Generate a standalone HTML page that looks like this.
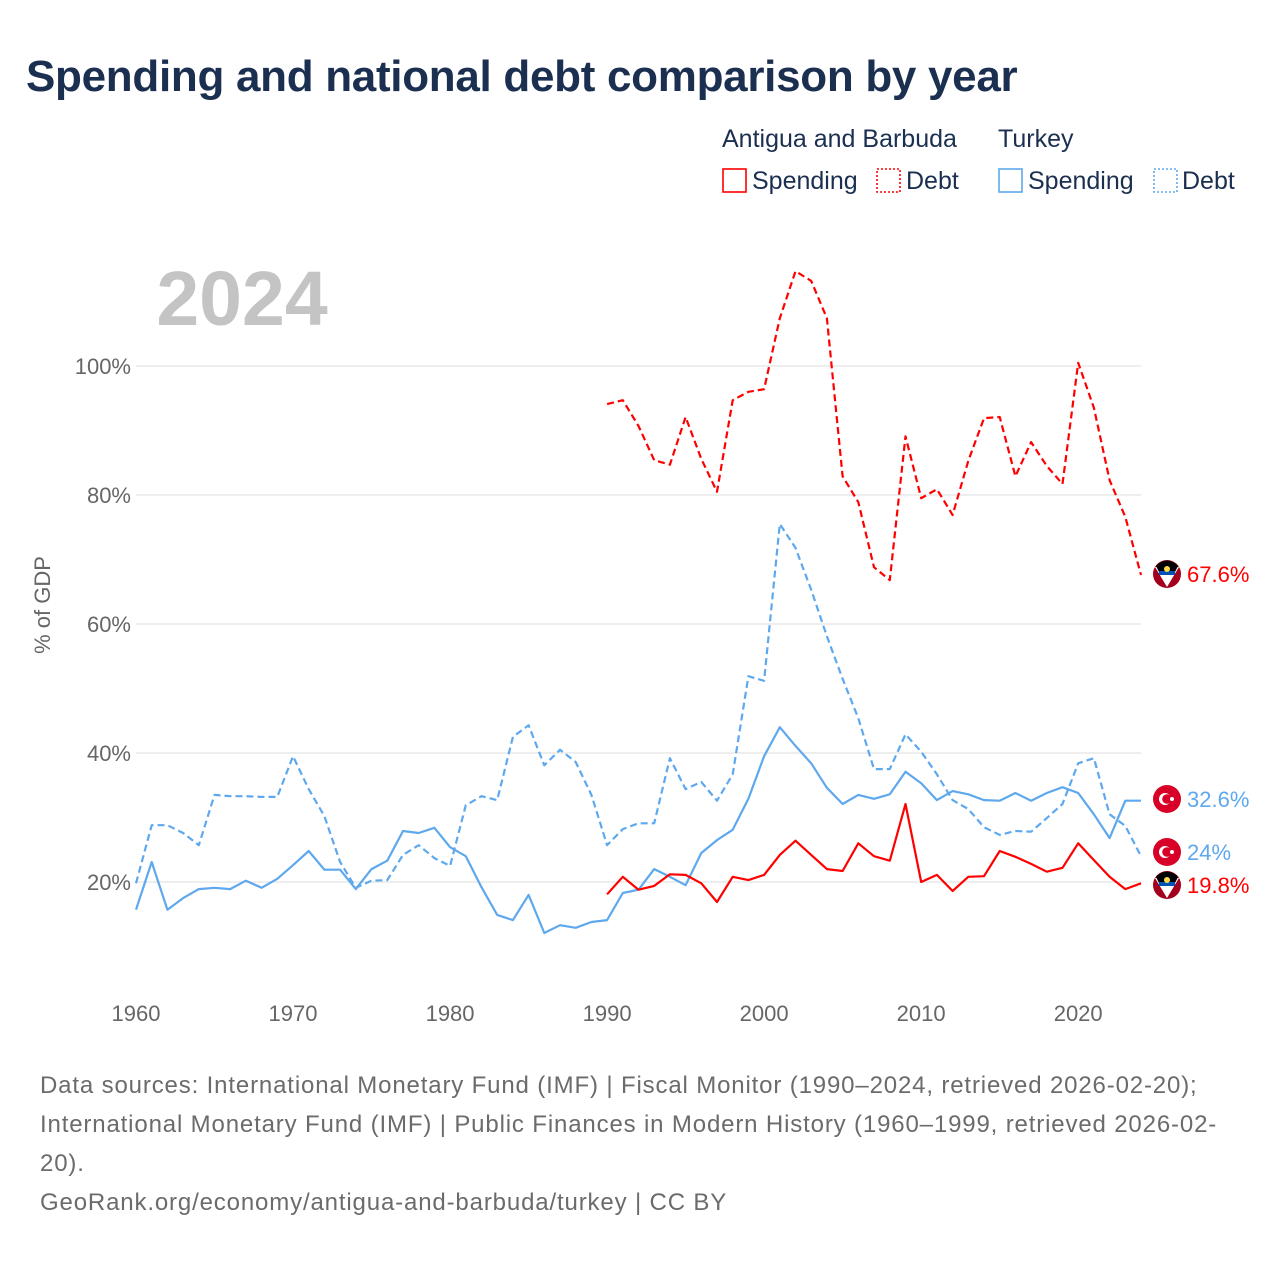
<!DOCTYPE html>
<html><head><meta charset="utf-8">
<style>
body{margin:0;background:#fff;font-family:"Liberation Sans",sans-serif;}
#wrap{position:relative;width:1280px;height:1280px;overflow:hidden;}
h1{position:absolute;left:26px;top:52px;margin:0;font-size:44px;font-weight:bold;color:#1b2f50;letter-spacing:-0.3px;}
.src{position:absolute;left:40px;top:1066px;width:1230px;font-size:24px;line-height:39px;color:#6b6b6b;letter-spacing:0.85px;white-space:nowrap;}
</style></head><body>
<div id="wrap">
<h1>Spending and national debt comparison by year</h1>
<svg id="chart" width="1280" height="1280" style="position:absolute;left:0;top:0"></svg>
<div class="src">Data sources: International Monetary Fund (IMF) | Fiscal Monitor (1990–2024, retrieved 2026-02-20);<br>International Monetary Fund (IMF) | Public Finances in Modern History (1960–1999, retrieved 2026-02-<br>20).<br>GeoRank.org/economy/antigua-and-barbuda/turkey | CC BY</div>
</div>
<script>
const yearsTR = [];for(let y=1960;y<=2024;y++)yearsTR.push(y);
const yearsAG = [];for(let y=1990;y<=2024;y++)yearsAG.push(y);
const trSpending = [15.7,23.1,15.7,17.5,18.9,19.1,18.9,20.2,19.1,20.5,22.6,24.8,21.9,21.9,18.9,22.0,23.3,27.9,27.6,28.4,25.4,24.0,19.2,14.9,14.1,18.0,12.1,13.3,12.9,13.8,14.1,18.3,18.8,22.0,20.8,19.5,24.5,26.5,28.1,32.9,39.5,44.0,41.1,38.4,34.6,32.1,33.5,32.9,33.6,37.1,35.3,32.7,34.1,33.6,32.7,32.6,33.8,32.6,33.8,34.7,33.8,30.5,26.8,32.6,32.6];
const trDebt = [19.8,28.8,28.8,27.6,25.7,33.5,33.3,33.3,33.2,33.2,39.5,34.4,30.2,23.1,19.1,20.2,20.3,24.2,25.7,23.7,22.5,31.9,33.3,32.7,42.5,44.3,38.1,40.5,38.6,33.5,25.7,28.2,29.1,29.1,39.2,34.4,35.5,32.6,36.7,51.9,51.2,75.5,71.8,65.3,58.1,51.5,45.4,37.5,37.5,42.9,40.2,36.7,32.7,31.3,28.5,27.3,27.9,27.8,29.9,32.1,38.4,39.2,30.5,28.7,24.0];
const agSpending = [18.1,20.8,18.8,19.4,21.2,21.1,19.8,16.9,20.8,20.3,21.1,24.2,26.4,24.2,22.0,21.7,26.0,24.0,23.3,32.1,20.0,21.1,18.6,20.8,20.9,24.8,23.9,22.8,21.6,22.2,26.0,23.4,20.8,18.9,19.8];
const agDebt = [94.1,94.7,90.7,85.4,84.7,92.1,85.6,80.5,94.7,96.0,96.4,107.4,114.7,113.2,107.4,82.9,78.9,68.8,66.8,89.1,79.5,80.9,76.9,85.3,91.9,92.1,82.9,88.2,84.5,81.7,100.5,93.5,82.3,76.6,67.6];
const yTicks = [20,40,60,80,100];
const xTicks = [1960,1970,1980,1990,2000,2010,2020];

const NS="http://www.w3.org/2000/svg";
const svg=document.getElementById('chart');
const X=yr=>136+(yr-1960)*(1141-136)/64;
const Y=v=>1011-v*6.45;
function mk(tag,attrs,parent){const e=document.createElementNS(NS,tag);for(const k in attrs)e.setAttribute(k,attrs[k]);(parent||svg).appendChild(e);return e;}
function txt(s,attrs){const t=mk('text',attrs);t.textContent=s;return t;}

yTicks.forEach(v=>{
  const l=mk('line',{x1:136,x2:1141,y1:Y(v),y2:Y(v),stroke:'#e8e8e8','stroke-width':1.5});
  
  
  const t=txt(v+'%',{x:131,y:Y(v)+8,'text-anchor':'end','font-size':22,fill:'#666'});
  
  
});
xTicks.forEach(yr=>{
  const t=txt(String(yr),{x:X(yr),y:1021,'text-anchor':'middle','font-size':22,fill:'#666'});
  
  
});
const yt=txt('% of GDP',{x:0,y:0,transform:'translate(50,605) rotate(-90)','text-anchor':'middle','font-size':22,fill:'#666'});


const yr=txt('2024',{x:242,y:325,'text-anchor':'middle','font-size':77,'font-weight':'bold',fill:'#c4c4c4'});



function series(years,vals,color,dashed,name){
  const d=vals.map((v,i)=>(i?'L':'M')+X(years[i]).toFixed(1)+','+Y(v).toFixed(1)).join('');
  const p=mk('path',{d:d,fill:'none',stroke:color,'stroke-width':2.2,'stroke-linejoin':'round'});
  if(dashed)p.setAttribute('stroke-dasharray','7,4');
  
  
}
series(yearsTR,trDebt,'#5ea8ee',true,'turkey-debt-line');
series(yearsTR,trSpending,'#5ea8ee',false,'turkey-spending-line');
series(yearsAG,agDebt,'#ff0000',true,'antigua-debt-line');
series(yearsAG,agSpending,'#ff0000',false,'antigua-spending-line');

function flag(type,cy){
  const g=mk('g',{});
  
  
  const cx=1167;
  if(type==='turkey'){
    mk('circle',{cx:cx,cy:cy,r:14,fill:'#d80027'},g);
    mk('circle',{cx:cx-2,cy:cy,r:6,fill:'#fff'},g);
    mk('circle',{cx:cx,cy:cy,r:4.8,fill:'#d80027'},g);
    mk('circle',{cx:cx+5,cy:cy,r:2,fill:'#fff'},g);
  } else {
    mk('circle',{cx:cx,cy:cy,r:14,fill:'#a2001d'},g);
    mk('path',{d:`M${cx-12},${cy-7}L${cx+12},${cy-7}L${cx},${cy+13}Z`,fill:'#fff'},g);
    mk('path',{d:`M${cx-11},${cy-8}A14,14 0 0 1 ${cx+11},${cy-8}L${cx+8},${cy-2}L${cx-8},${cy-2}Z`,fill:'#000'},g);
    mk('rect',{x:cx-8,y:cy-3,width:16,height:4,fill:'#0052b4'},g);
    mk('circle',{cx:cx,cy:cy-5,r:3,fill:'#ffda44'},g);
  }
}
function endLabel(val,color,cy,type,name){
  flag(type,cy);
  const t=txt(val,{x:1187,y:cy+8,'font-size':22,fill:color});
  
  
}
endLabel(agDebt[agDebt.length-1]+'%','#ff0000',574,'antigua','antigua-debt-label');
endLabel(trSpending[trSpending.length-1]+'%','#5ea8ee',799,'turkey','turkey-spending-label');
endLabel(trDebt[trDebt.length-1]+'%','#5ea8ee',852,'turkey','turkey-debt-label');
endLabel(agSpending[agSpending.length-1]+'%','#ff0000',885,'antigua','antigua-spending-label');

const lg=mk('g',{});


function lt(s,x,y,name){const t=mk('text',{x:x,y:y,'font-size':25,fill:'#1b2f50'},lg);t.textContent=s;}
lt('Antigua and Barbuda',722,147,'legend-group-antigua');
lt('Turkey',998,147,'legend-group-turkey');
function box(x,color,dotted,name){const r=mk('rect',{x:x,y:169,width:23,height:23,fill:'none',stroke:color,'stroke-width':1.6},lg);if(dotted)r.setAttribute('stroke-dasharray','2,2');}
box(723,'#ff0000',false,'legend-antigua-spending-swatch');lt('Spending',752,189,'legend-antigua-spending');
box(877,'#ff0000',true,'legend-antigua-debt-swatch');lt('Debt',906,189,'legend-antigua-debt');
box(999,'#5ea8ee',false,'legend-turkey-spending-swatch');lt('Spending',1028,189,'legend-turkey-spending');
box(1154,'#5ea8ee',true,'legend-turkey-debt-swatch');lt('Debt',1182,189,'legend-turkey-debt');
</script>
</body></html>
